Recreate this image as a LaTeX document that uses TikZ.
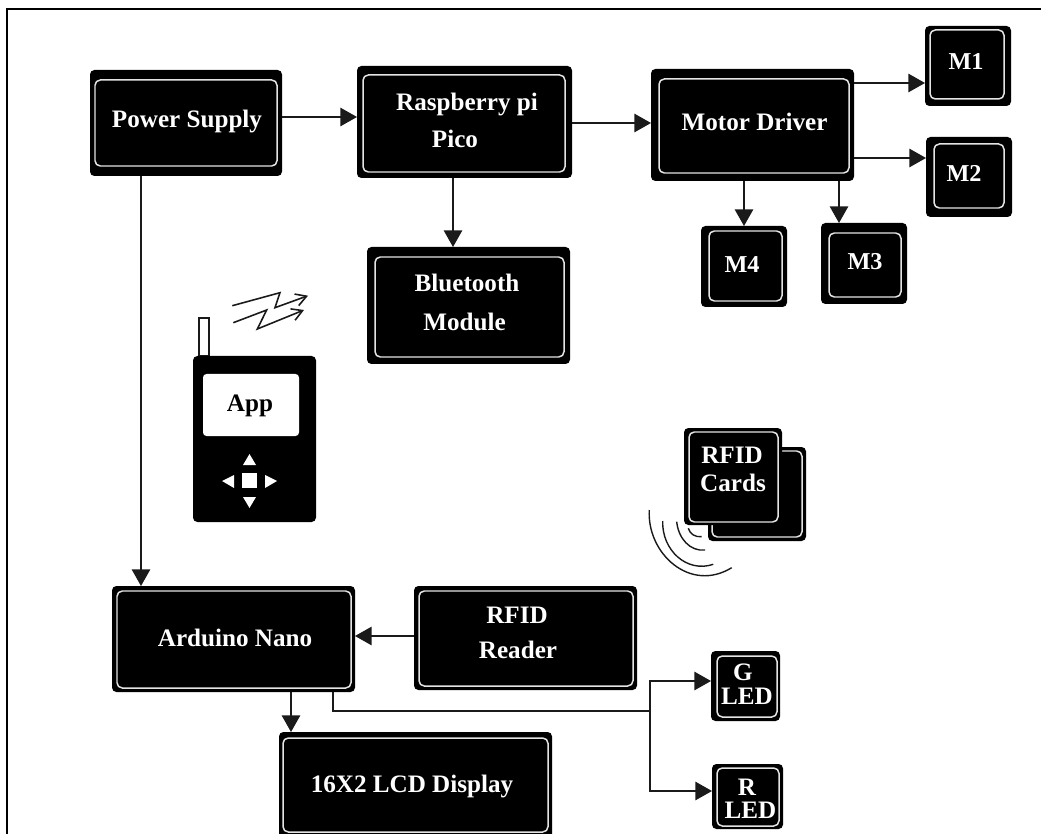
\documentclass[tikz,border=0pt]{standalone}
\usepackage{fontspec}
\setmainfont{Liberation Serif}
\usetikzlibrary{arrows.meta, fit}
\definecolor{box-line}{HTML}{E4E4E4}
\definecolor{wire}{HTML}{1A1A1A}

\begin{document}
\begin{tikzpicture}[
	x=0.02cm, y=-0.02cm,
	blackbox/.style={
		fill=black, rounded corners=2.5pt,
		inner sep=0pt, outer sep=0pt
	},
	whitebox/.style={
		draw=box-line, line width=0.85pt, fill=black,
		rounded corners=3pt, inner sep=0pt, outer sep=0pt
	},
	boxtext/.style={
		text=white, inner sep=0pt,
		font=\fontsize{14.3}{17}\selectfont\bfseries
	},
	smalltext/.style={
		boxtext, font=\fontsize{13.8}{16}\selectfont\bfseries
	},
	link/.style={
		draw=wire, line width=0.9pt,
		-{Triangle[length=9.5pt,width=10.5pt]}
	},
	plainlink/.style={draw=wire, line width=0.9pt},
	signal/.style={
		draw=wire, line width=0.9pt,
		-{Straight Barb[length=6pt,width=7pt]}
	},
	wave/.style={draw=wire, line width=0.8pt},
	padkey/.style={fill=white, draw=none}
	]
	
	\useasboundingbox (0,0) rectangle (1041,834);
	\draw[line width=1.3pt] (7,834) -- (7,9) -- (1041,9);
	
	\node[blackbox, fit={(90,70) (282,176)}] (power) {};
	\node[whitebox, fit={(95,80) (277,166)}] (powerin) {};
	\node[boxtext] (powertxt) at (187,121) {Power Supply};
	
	\node[blackbox, fit={(357,66) (572,178)}] (pico) {};
	\node[whitebox, fit={(363,75) (565,172)}] (picoin) {};
	\node[boxtext] (picotxta) at (467,104) {Raspberry pi};
	\node[boxtext] (picotxtb) at (455,139) {Pico};
	
	\node[blackbox, fit={(367,247) (570,364)}] (bluetooth) {};
	\node[whitebox, fit={(375,257) (564,357)}] (bluetoothin) {};
	\node[boxtext] (bluetoothtxta) at (467,283) {Bluetooth};
	\node[boxtext] (bluetoothtxtb) at (464.5,322) {Module};
	
	\node[blackbox, fit={(651,69) (854,181)}] (driver) {};
	\node[whitebox, fit={(659,79) (849,173)}] (driverin) {};
	\node[boxtext] (drivertxt) at (754.5,122) {Motor Driver};
	
	\node[blackbox, fit={(925,26) (1011,106)}] (mone) {};
	\node[whitebox, fit={(930,30) (1004,99)}] (monein) {};
	\node[smalltext] (monetxt) at (966,62) {M1};
	
	\node[blackbox, fit={(926,137) (1012,217)}] (mtwo) {};
	\node[whitebox, fit={(934,144) (1004,208)}] (mtwoin) {};
	\node[smalltext] (mtwotxt) at (964,173) {M2};
	
	\node[blackbox, fit={(821,223) (907,304)}] (mthree) {};
	\node[whitebox, fit={(829,233) (901,297)}] (mthreein) {};
	\node[smalltext] (mthreetxt) at (865,262) {M3};
	
	\node[blackbox, fit={(701,226) (787,307)}] (mfour) {};
	\node[whitebox, fit={(709,231) (782,301)}] (mfourin) {};
	\node[smalltext] (mfourtxt) at (742,265) {M4};
	
	\node[blackbox, fit={(112,586) (355,692)}] (nano) {};
	\node[whitebox, fit={(117,591) (351,688)}] (nanoin) {};
	\node[boxtext] (nanotxt) at (235,638) {Arduino Nano};
	
	\node[blackbox, fit={(414,586) (637,690)}] (reader) {};
	\node[whitebox, fit={(419,591) (633,686)}] (readerin) {};
	\node[boxtext] (readertxta) at (517,615) {RFID};
	\node[boxtext] (readertxtb) at (518,650) {Reader};
	
	\node[blackbox, fit={(279,732) (552,840)}] (lcd) {};
	\node[whitebox, fit={(283,738) (548,832)}] (lcdin) {};
	\node[boxtext] (lcdtxt) at (412,786) {16X2 LCD Display};
	
	\node[blackbox, fit={(711,651) (780,721)}] (gled) {};
	\node[whitebox, fit={(717,656) (777,717)}] (gledin) {};
	\node[boxtext] (gledtxta) at (743,672) {G};
	\node[boxtext] (gledtxtb) at (747,696) {LED};
	
	\node[blackbox, fit={(712,764) (783,829)}] (rled) {};
	\node[whitebox, fit={(717,768) (779,826)}] (rledin) {};
	\node[boxtext] (rledtxta) at (747,787) {R};
	\node[boxtext] (rledtxtb) at (750.5,810) {LED};
	
	\node[blackbox, fit={(708,447) (806,541)}] (cardback) {};
	\node[whitebox, fit={(712,451) (802,537)}] (cardbackin) {};
	\node[blackbox, fit={(684,428) (782,525)}] (cardfront) {};
	\node[whitebox, fit={(689,432) (778,522)}] (cardfrontin) {};
	\node[boxtext] (cardtxta) at (732,455) {RFID};
	\node[boxtext] (cardtxtb) at (733,483) {Cards};
	
	\draw[wave] (649.3,510) .. controls (646.7,553.3) and (690,593.3) .. (731.7,567.7);
	\draw[wave] (662.7,521) .. controls (661.7,550) and (686.7,573.3) .. (713.3,564.3);
	\draw[wave] (676.7,521.7) .. controls (678.3,538.3) and (690,551.7) .. (705,550);
	\draw[wave] (688.3,528.3) .. controls (690,534) and (695,537.3) .. (701.7,536.7);
	
	\draw[draw=wire, fill=white, line width=0.7pt] (199,356) rectangle (209,318);
	\node[blackbox, fit={(193,356) (316,522)}] (phone) {};
	\node[fill=white, rounded corners=2pt, inner sep=0pt, outer sep=0pt, fit={(203,374) (299,436)}] (screen) {};
	\node[boxtext, text=black] (apptxt) at (250,406) {App};
	\node[padkey, inner sep=0pt, fit={(242,473) (257,488)}] (padcentre) {};
	\fill[padkey] (249.5,454) -- (256,465) -- (243,465) -- cycle;
	\fill[padkey] (249.5,508) -- (256,497) -- (243,497) -- cycle;
	\fill[padkey] (222,481) -- (234,475) -- (234,488) -- cycle;
	\fill[padkey] (277,481) -- (265,475) -- (265,488) -- cycle;
	\draw[signal] (232.3,305.7) -- (280,292.7) -- (275,307.7) -- (308,295.7);
	\draw[signal] (233.3,322.7) -- (266.7,310) -- (257.3,329) -- (304,310);
	
	\coordinate (ledjoin) at (650,711);
	
	\draw[link] (power.east |- 0,117) -- (pico.west |- 0,117);
	\draw[link] (pico.east |- 0,123) -- (driver.west |- 0,123);
	\draw[link] (pico.south -| 453,0) -- (bluetooth.north -| 453,0);
	\draw[link] (driver.east |- 0,83) -- (mone.west |- 0,83);
	\draw[link] (driver.east |- 0,158) -- (mtwo.west |- 0,158);
	\draw[link] (driver.south -| 839,0) -- (mthree.north -| 839,0);
	\draw[link] (driver.south -| 744,0) -- (mfour.north -| 744,0);
	\draw[link] (power.south -| 141,0) -- (nano.north -| 141,0);
	\draw[link] (reader.west |- 0,636) -- (nano.east |- 0,636);
	\draw[link] (nano.south -| 291,0) -- (lcd.north -| 291,0);
	\draw[plainlink] (nano.south -| 333,0) |- (ledjoin);
	\draw[link] (ledjoin) |- (gled.west |- 0,681);
	\draw[link] (ledjoin) |- (rled.west |- 0,791);
	
\end{tikzpicture}
\end{document}
